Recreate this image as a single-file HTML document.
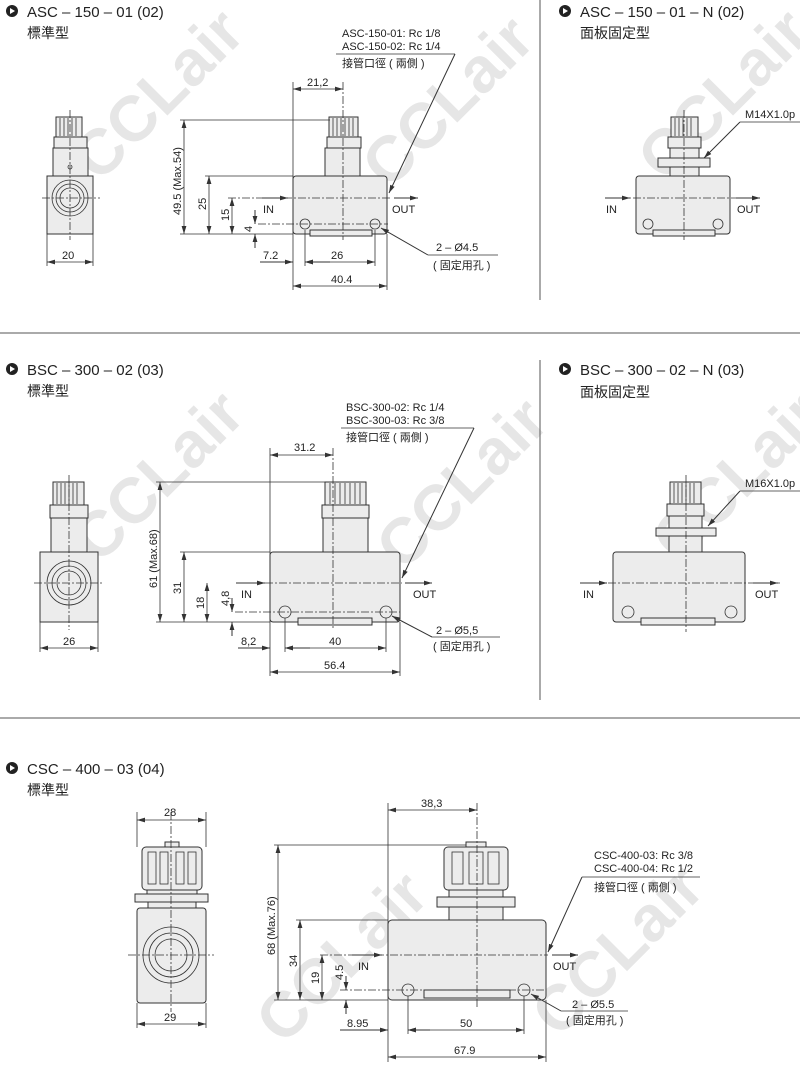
<!DOCTYPE html>
<html><head><meta charset="utf-8"><style>
html,body{margin:0;padding:0;background:#fff;width:800px;height:1068px;overflow:hidden}
svg{display:block}
text{font-family:"Liberation Sans","Noto Sans CJK TC",sans-serif;fill:#222}
.t{font-size:15px}
.c{font-size:14px}
.s{font-size:11px}
.d{font-size:11px}
.wm{font-family:"Liberation Sans",sans-serif;font-weight:bold;font-size:64px;fill:#e6e6e6}
.b{fill:#ececec;stroke:#333;stroke-width:1}
.l{stroke:#333;stroke-width:0.8;fill:none}
.cl{stroke:#333;stroke-width:0.8;fill:none;stroke-dasharray:8 2 2 2}
.dim{stroke:#333;stroke-width:0.8;fill:none;marker-start:url(#a);marker-end:url(#a)}
.arr{stroke:#333;stroke-width:1;fill:none;marker-end:url(#a)}
</style></head><body>
<svg width="800" height="1068" viewBox="0 0 800 1068" xmlns="http://www.w3.org/2000/svg" overflow="hidden">
<defs>
<marker id="a" viewBox="0 0 10 6" refX="10" refY="3" markerWidth="8" markerHeight="5" markerUnits="userSpaceOnUse" orient="auto-start-reverse"><path d="M0,0L10,3L0,6z" fill="#333"/></marker>
</defs>
<g transform="rotate(-45)">
<text class="wm" x="-60" y="200">CCLair</text>
<text class="wm" x="140" y="410">CCLair</text>
<text class="wm" x="340" y="600">CCLair</text>
<text class="wm" x="-330" y="470">CCLair</text>
<text class="wm" x="-120" y="690">CCLair</text>
<text class="wm" x="80" y="880">CCLair</text>
<text class="wm" x="-540" y="940">CCLair</text>
<text class="wm" x="-340" y="1130">CCLair</text>
<text class="wm" x="-150" y="1320">CCLair</text>
</g>

<line x1="0" y1="333" x2="800" y2="333" stroke="#555" stroke-width="1"/>
<line x1="0" y1="718" x2="800" y2="718" stroke="#555" stroke-width="1"/>
<line x1="540" y1="0" x2="540" y2="300" stroke="#555" stroke-width="1"/>
<line x1="540" y1="360" x2="540" y2="700" stroke="#555" stroke-width="1"/>

<circle cx="12" cy="11" r="6" fill="#222"/><path d="M10,8L15,11L10,14z" fill="#fff"/>
<text class="t" x="27" y="17">ASC – 150 – 01 (02)</text>
<text class="c" x="27" y="38">標準型</text>
<rect class="b" x="56" y="117" width="26" height="20"/>
<g class="l"><line x1="60" y1="118" x2="60" y2="136"/><line x1="64" y1="118" x2="64" y2="136"/><line x1="68" y1="118" x2="68" y2="136"/><line x1="72" y1="118" x2="72" y2="136"/><line x1="76" y1="118" x2="76" y2="136"/></g>
<rect class="b" x="54" y="137" width="33" height="11"/>
<rect class="b" x="53" y="148" width="35" height="28"/>
<rect class="b" x="47" y="176" width="46" height="58"/>
<circle class="l" cx="70" cy="198" r="18"/><circle class="l" cx="70" cy="198" r="14"/><circle class="l" cx="70" cy="198" r="10"/>
<circle class="l" cx="70" cy="167" r="2"/>
<line class="cl" x1="70" y1="110" x2="70" y2="240"/><line class="cl" x1="42" y1="198" x2="100" y2="198"/>
<line class="l" x1="47" y1="234" x2="47" y2="266"/><line class="l" x1="93" y1="234" x2="93" y2="266"/>
<line class="dim" x1="47" y1="262" x2="93" y2="262"/><text class="d" x="62" y="259">20</text>
<rect class="b" x="329" y="117" width="29" height="20"/>
<g class="l"><line x1="333" y1="118" x2="333" y2="136"/><line x1="337" y1="118" x2="337" y2="136"/><line x1="341" y1="118" x2="341" y2="136"/><line x1="345" y1="118" x2="345" y2="136"/><line x1="349" y1="118" x2="349" y2="136"/><line x1="353" y1="118" x2="353" y2="136"/></g>
<rect class="b" x="327" y="137" width="34" height="11"/>
<rect class="b" x="325" y="148" width="35" height="28"/>
<rect class="b" x="293" y="176" width="94" height="58" rx="3"/>
<rect class="b" x="310" y="230" width="62" height="6"/>
<circle class="l" cx="305" cy="224" r="5"/><circle class="l" cx="375" cy="224" r="5"/>
<line class="cl" x1="343" y1="82" x2="343" y2="240"/>
<line class="cl" x1="228" y1="198" x2="390" y2="198"/>
<line class="cl" x1="258" y1="224" x2="388" y2="224"/>
<line class="l" x1="293" y1="82" x2="293" y2="290"/>
<line class="l" x1="180" y1="120" x2="330" y2="120"/>
<line class="l" x1="205" y1="176" x2="293" y2="176"/>
<line class="l" x1="180" y1="234" x2="293" y2="234"/>
<line class="l" x1="305" y1="230" x2="305" y2="266"/><line class="l" x1="375" y1="230" x2="375" y2="266"/><line class="l" x1="387" y1="234" x2="387" y2="290"/>
<line class="dim" x1="293" y1="89" x2="343" y2="89"/><text class="d" x="307" y="86">21,2</text>
<line class="dim" x1="184" y1="120" x2="184" y2="234"/><text class="d" transform="translate(181,215) rotate(-90)">49.5 (Max.54)</text>
<line class="dim" x1="209" y1="176" x2="209" y2="234"/><text class="d" transform="translate(206,210) rotate(-90)">25</text>
<line class="dim" x1="232" y1="198" x2="232" y2="234"/><text class="d" transform="translate(229,221) rotate(-90)">15</text>
<line class="arr" x1="255" y1="210" x2="255" y2="224"/><line class="arr" x1="255" y1="248" x2="255" y2="234"/><text class="d" transform="translate(252,232) rotate(-90)">4</text>
<line class="arr" x1="260" y1="262" x2="293" y2="262"/><line class="arr" x1="330" y1="262" x2="305" y2="262"/><text class="d" x="263" y="259">7.2</text>
<line class="dim" x1="305" y1="262" x2="375" y2="262"/><text class="d" x="331" y="259">26</text>
<line class="dim" x1="293" y1="286" x2="387" y2="286"/><text class="d" x="331" y="283">40.4</text>
<line class="arr" x1="262" y1="198" x2="288" y2="198"/><text class="d" x="263" y="213">IN</text>
<line class="arr" x1="394" y1="198" x2="418" y2="198"/><text class="d" x="392" y="213">OUT</text>
<text class="s" x="342" y="37">ASC-150-01: Rc 1/8</text>
<text class="s" x="342" y="50">ASC-150-02: Rc 1/4</text>
<line class="l" x1="336" y1="54" x2="455" y2="54"/>
<text class="s" x="342" y="67">接管口徑 ( 兩側 )</text>
<line class="arr" x1="455" y1="54" x2="389" y2="193"/>
<line class="arr" x1="428" y1="255" x2="381" y2="228"/>
<line class="l" x1="428" y1="255" x2="498" y2="255"/>
<text class="s" x="436" y="251">2 – Ø4.5</text>
<text class="s" x="433" y="269">( 固定用孔 )</text>

<circle cx="565" cy="11" r="6" fill="#222"/><path d="M563,8L568,11L563,14z" fill="#fff"/>
<text class="t" x="580" y="17">ASC – 150 – 01 – N (02)</text>
<text class="c" x="580" y="38">面板固定型</text>
<rect class="b" x="671" y="117" width="27" height="20"/>
<g class="l"><line x1="675" y1="118" x2="675" y2="136"/><line x1="679" y1="118" x2="679" y2="136"/><line x1="683" y1="118" x2="683" y2="136"/><line x1="687" y1="118" x2="687" y2="136"/><line x1="691" y1="118" x2="691" y2="136"/></g>
<rect class="b" x="668" y="137" width="33" height="11"/>
<rect class="b" x="670" y="148" width="29" height="28"/>
<rect class="b" x="658" y="158" width="52" height="9"/>
<rect class="b" x="636" y="176" width="94" height="58" rx="3"/>
<rect class="b" x="653" y="230" width="62" height="6"/>
<circle class="l" cx="648" cy="224" r="5"/><circle class="l" cx="718" cy="224" r="5"/>
<line class="cl" x1="684" y1="110" x2="684" y2="240"/>
<line class="cl" x1="605" y1="198" x2="760" y2="198"/>
<line class="arr" x1="605" y1="198" x2="630" y2="198"/><text class="d" x="606" y="213">IN</text>
<line class="arr" x1="736" y1="198" x2="760" y2="198"/><text class="d" x="737" y="213">OUT</text>
<text class="s" x="745" y="118">M14X1.0p</text>
<line class="l" x1="740" y1="122" x2="800" y2="122"/>
<line class="arr" x1="740" y1="122" x2="704" y2="158"/>

<circle cx="12" cy="369" r="6" fill="#222"/><path d="M10,366L15,369L10,372z" fill="#fff"/>
<text class="t" x="27" y="375">BSC – 300 – 02 (03)</text>
<text class="c" x="27" y="396">標準型</text>
<rect class="b" x="53" y="482" width="31" height="23"/>
<g class="l"><line x1="57" y1="483" x2="57" y2="504"/><line x1="61" y1="483" x2="61" y2="504"/><line x1="65" y1="483" x2="65" y2="504"/><line x1="69" y1="483" x2="69" y2="504"/><line x1="73" y1="483" x2="73" y2="504"/><line x1="77" y1="483" x2="77" y2="504"/></g>
<rect class="b" x="50" y="505" width="38" height="13"/>
<rect class="b" x="51" y="518" width="36" height="34"/>
<rect class="b" x="40" y="552" width="58" height="70"/>
<circle class="l" cx="69" cy="583" r="22"/><circle class="l" cx="69" cy="583" r="17"/><circle class="l" cx="69" cy="583" r="12"/>
<line class="cl" x1="69" y1="475" x2="69" y2="630"/><line class="cl" x1="34" y1="583" x2="104" y2="583"/>
<line class="l" x1="40" y1="622" x2="40" y2="652"/><line class="l" x1="98" y1="622" x2="98" y2="652"/>
<line class="dim" x1="40" y1="648" x2="98" y2="648"/><text class="d" x="63" y="645">26</text>
<rect class="b" x="325" y="482" width="41" height="23"/>
<g class="l"><line x1="330" y1="483" x2="330" y2="504"/><line x1="335" y1="483" x2="335" y2="504"/><line x1="340" y1="483" x2="340" y2="504"/><line x1="345" y1="483" x2="345" y2="504"/><line x1="350" y1="483" x2="350" y2="504"/><line x1="355" y1="483" x2="355" y2="504"/><line x1="360" y1="483" x2="360" y2="504"/></g>
<rect class="b" x="322" y="505" width="47" height="13"/>
<rect class="b" x="323" y="518" width="45" height="34"/>
<rect class="b" x="270" y="552" width="130" height="70" rx="3"/>
<rect class="b" x="298" y="618" width="74" height="7"/>
<circle class="l" cx="285" cy="612" r="6"/><circle class="l" cx="386" cy="612" r="6"/>
<line class="cl" x1="333" y1="448" x2="333" y2="628"/>
<line class="cl" x1="237" y1="583" x2="402" y2="583"/>
<line class="cl" x1="235" y1="612" x2="400" y2="612"/>
<line class="l" x1="270" y1="448" x2="270" y2="676"/>
<line class="l" x1="156" y1="482" x2="325" y2="482"/>
<line class="l" x1="180" y1="552" x2="270" y2="552"/>
<line class="l" x1="156" y1="622" x2="270" y2="622"/>
<line class="l" x1="285" y1="618" x2="285" y2="652"/><line class="l" x1="386" y1="618" x2="386" y2="652"/><line class="l" x1="400" y1="622" x2="400" y2="676"/>
<line class="dim" x1="270" y1="455" x2="333" y2="455"/><text class="d" x="294" y="451">31.2</text>
<line class="dim" x1="160" y1="482" x2="160" y2="622"/><text class="d" transform="translate(157,588) rotate(-90)">61 (Max.68)</text>
<line class="dim" x1="184" y1="552" x2="184" y2="622"/><text class="d" transform="translate(181,594) rotate(-90)">31</text>
<line class="dim" x1="207" y1="583" x2="207" y2="622"/><text class="d" transform="translate(204,609) rotate(-90)">18</text>
<line class="arr" x1="232" y1="598" x2="232" y2="612"/><line class="arr" x1="232" y1="636" x2="232" y2="622"/><text class="d" transform="translate(229,606) rotate(-90)">4,8</text>
<line class="arr" x1="238" y1="648" x2="270" y2="648"/><line class="arr" x1="310" y1="648" x2="285" y2="648"/><text class="d" x="241" y="645">8,2</text>
<line class="dim" x1="285" y1="648" x2="386" y2="648"/><text class="d" x="329" y="645">40</text>
<line class="dim" x1="270" y1="672" x2="400" y2="672"/><text class="d" x="324" y="669">56.4</text>
<line class="arr" x1="236" y1="583" x2="265" y2="583"/><text class="d" x="241" y="598">IN</text>
<line class="arr" x1="405" y1="583" x2="432" y2="583"/><text class="d" x="413" y="598">OUT</text>
<text class="s" x="346" y="411">BSC-300-02: Rc 1/4</text>
<text class="s" x="346" y="424">BSC-300-03: Rc 3/8</text>
<line class="l" x1="341" y1="428" x2="474" y2="428"/>
<text class="s" x="346" y="441">接管口徑 ( 兩側 )</text>
<line class="arr" x1="474" y1="428" x2="402" y2="578"/>
<line class="arr" x1="432" y1="637" x2="392" y2="616"/>
<line class="l" x1="432" y1="637" x2="500" y2="637"/>
<text class="s" x="436" y="634">2 – Ø5,5</text>
<text class="s" x="433" y="650">( 固定用孔 )</text>

<circle cx="565" cy="369" r="6" fill="#222"/><path d="M563,366L568,369L563,372z" fill="#fff"/>
<text class="t" x="580" y="375">BSC – 300 – 02 – N (03)</text>
<text class="c" x="580" y="397">面板固定型</text>
<rect class="b" x="670" y="482" width="31" height="22"/>
<g class="l"><line x1="674" y1="483" x2="674" y2="503"/><line x1="678" y1="483" x2="678" y2="503"/><line x1="682" y1="483" x2="682" y2="503"/><line x1="686" y1="483" x2="686" y2="503"/><line x1="690" y1="483" x2="690" y2="503"/><line x1="694" y1="483" x2="694" y2="503"/></g>
<rect class="b" x="667" y="504" width="37" height="12"/>
<rect class="b" x="669" y="516" width="33" height="36"/>
<rect class="b" x="656" y="528" width="60" height="8"/>
<rect class="b" x="613" y="552" width="132" height="70" rx="3"/>
<rect class="b" x="641" y="618" width="74" height="7"/>
<circle class="l" cx="628" cy="612" r="6"/><circle class="l" cx="731" cy="612" r="6"/>
<line class="cl" x1="686" y1="475" x2="686" y2="632"/>
<line class="cl" x1="580" y1="583" x2="780" y2="583"/>
<line class="arr" x1="580" y1="583" x2="607" y2="583"/><text class="d" x="583" y="598">IN</text>
<line class="arr" x1="753" y1="583" x2="778" y2="583"/><text class="d" x="755" y="598">OUT</text>
<text class="s" x="745" y="487">M16X1.0p</text>
<line class="l" x1="740" y1="491" x2="800" y2="491"/>
<line class="arr" x1="740" y1="491" x2="708" y2="526"/>

<circle cx="12" cy="768" r="6" fill="#222"/><path d="M10,765L15,768L10,771z" fill="#fff"/>
<text class="t" x="27" y="774">CSC – 400 – 03 (04)</text>
<text class="c" x="27" y="795">標準型</text>
<rect class="b" x="165" y="842" width="14" height="6"/>
<rect class="b" x="142" y="847" width="60" height="43" rx="4"/>
<g class="l"><rect x="148" y="852" width="8" height="32"/><rect x="160" y="852" width="8" height="32"/><rect x="176" y="852" width="8" height="32"/><rect x="188" y="852" width="8" height="32"/></g>
<rect class="b" x="147" y="890" width="50" height="4"/>
<rect class="b" x="135" y="894" width="73" height="8"/>
<rect class="b" x="148" y="902" width="48" height="6"/>
<rect class="b" x="137" y="908" width="69" height="95" rx="3"/>
<circle class="l" cx="171" cy="955" r="28"/><circle class="l" cx="171" cy="955" r="22"/><circle class="l" cx="171" cy="955" r="16"/>
<line class="cl" x1="171" y1="812" x2="171" y2="1012"/><line class="cl" x1="128" y1="955" x2="214" y2="955"/>
<line class="l" x1="137" y1="812" x2="137" y2="847"/><line class="l" x1="206" y1="812" x2="206" y2="847"/>
<line class="dim" x1="137" y1="820" x2="206" y2="820"/><text class="d" x="164" y="816">28</text>
<line class="l" x1="137" y1="1003" x2="137" y2="1028"/><line class="l" x1="206" y1="1003" x2="206" y2="1028"/>
<line class="dim" x1="137" y1="1024" x2="206" y2="1024"/><text class="d" x="164" y="1021">29</text>
<rect class="b" x="466" y="842" width="20" height="6"/>
<rect class="b" x="444" y="847" width="64" height="43" rx="4"/>
<g class="l"><rect x="452" y="852" width="11" height="32"/><rect x="469" y="852" width="14" height="32"/><rect x="488" y="852" width="11" height="32"/></g>
<rect class="b" x="437" y="897" width="78" height="10"/>
<rect class="b" x="449" y="890" width="54" height="7"/>
<rect class="b" x="449" y="907" width="54" height="13"/>
<rect class="b" x="388" y="920" width="158" height="80" rx="4"/>
<rect class="b" x="424" y="990" width="86" height="8"/>
<circle class="l" cx="408" cy="990" r="6"/><circle class="l" cx="524" cy="990" r="6"/>
<line class="cl" x1="477" y1="803" x2="477" y2="1008"/>
<line class="cl" x1="320" y1="955" x2="548" y2="955"/>
<line class="cl" x1="340" y1="990" x2="546" y2="990"/>
<line class="l" x1="388" y1="803" x2="388" y2="1062"/>
<line class="l" x1="274" y1="845" x2="466" y2="845"/>
<line class="l" x1="296" y1="920" x2="388" y2="920"/>
<line class="l" x1="274" y1="1000" x2="388" y2="1000"/>
<line class="l" x1="408" y1="996" x2="408" y2="1034"/><line class="l" x1="524" y1="996" x2="524" y2="1034"/><line class="l" x1="546" y1="1000" x2="546" y2="1062"/>
<line class="dim" x1="388" y1="810" x2="477" y2="810"/><text class="d" x="421" y="807">38,3</text>
<line class="dim" x1="278" y1="845" x2="278" y2="1000"/><text class="d" transform="translate(275,955) rotate(-90)">68 (Max.76)</text>
<line class="dim" x1="300" y1="920" x2="300" y2="1000"/><text class="d" transform="translate(297,967) rotate(-90)">34</text>
<line class="dim" x1="322" y1="955" x2="322" y2="1000"/><text class="d" transform="translate(319,984) rotate(-90)">19</text>
<line class="arr" x1="346" y1="976" x2="346" y2="990"/><line class="arr" x1="346" y1="1014" x2="346" y2="1000"/><text class="d" transform="translate(343,980) rotate(-90)">4.5</text>
<line class="arr" x1="340" y1="1030" x2="388" y2="1030"/><line class="arr" x1="430" y1="1030" x2="408" y2="1030"/><text class="d" x="347" y="1027">8.95</text>
<line class="dim" x1="408" y1="1030" x2="524" y2="1030"/><text class="d" x="460" y="1027">50</text>
<line class="dim" x1="388" y1="1057" x2="546" y2="1057"/><text class="d" x="454" y="1054">67.9</text>
<line class="arr" x1="352" y1="955" x2="382" y2="955"/><text class="d" x="358" y="970">IN</text>
<line class="arr" x1="552" y1="955" x2="578" y2="955"/><text class="d" x="553" y="970">OUT</text>
<text class="s" x="594" y="859">CSC-400-03: Rc 3/8</text>
<text class="s" x="594" y="872">CSC-400-04: Rc 1/2</text>
<line class="l" x1="582" y1="877" x2="700" y2="877"/>
<text class="s" x="594" y="891">接管口徑 ( 兩側 )</text>
<line class="arr" x1="582" y1="877" x2="548" y2="952"/>
<line class="arr" x1="561" y1="1011" x2="531" y2="994"/>
<line class="l" x1="561" y1="1011" x2="628" y2="1011"/>
<text class="s" x="572" y="1008">2 – Ø5.5</text>
<text class="s" x="566" y="1024">( 固定用孔 )</text>
</svg>
</body></html>
